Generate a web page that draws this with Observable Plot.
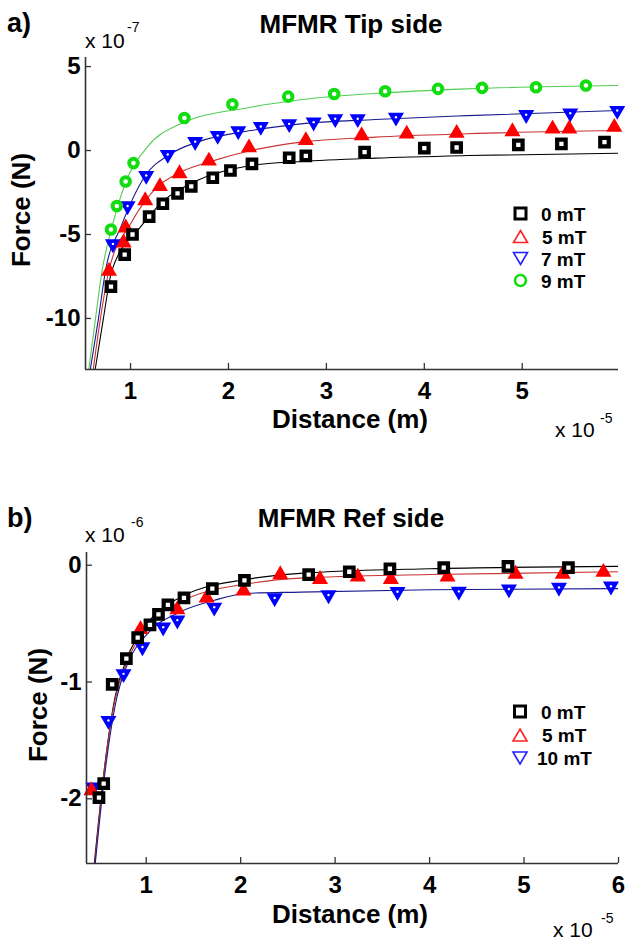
<!DOCTYPE html>
<html><head><meta charset="utf-8">
<script src="https://cdn.jsdelivr.net/npm/d3@7"></script>
<script src="https://cdn.jsdelivr.net/npm/@observablehq/plot@0.6"></script>
<style>
body{margin:0;background:#fff;}
#root{position:relative;width:625px;height:939px;overflow:hidden;background:#fff;font-family:"Liberation Sans",Arial,sans-serif;}
#root svg{position:absolute;left:0;}
</style></head>
<body><div id="root"></div>
<script>
// ---------------- DATA ----------------
// Panel a) MFMR Tip side  (x in 1e-5 m, y in 1e-7 N)
const topSeries = ["0 mT", "5 mT", "7 mT", "9 mT"];
const topX_0 = [0.80,0.94,1.02,1.19,1.33,1.48,1.62,1.84,2.02,2.24,2.62,2.79,3.39,4.00,4.33,4.96,5.40,5.84];
const topY_0 = [-8.1,-6.2,-5.0,-3.93,-3.17,-2.55,-2.14,-1.62,-1.19,-0.79,-0.43,-0.32,-0.10,0.14,0.18,0.34,0.40,0.50];
const topX_5 = [0.78,0.93,0.95,1.15,1.30,1.50,1.80,2.21,2.79,3.36,3.82,4.33,4.90,5.31,5.48,5.94];
const topY_5 = [-7.18,-5.5,-4.6,-2.98,-2.14,-1.37,-0.62,0.17,0.6,0.89,0.99,1.03,1.13,1.29,1.29,1.39];
const topX_7 = [0.82,0.97,1.16,1.38,1.66,1.89,2.10,2.33,2.62,2.87,3.09,3.32,3.71,5.04,5.49,5.97];
const topY_7 = [-5.56,-3.3,-1.49,-0.24,0.53,0.89,1.17,1.43,1.59,1.69,1.89,1.89,1.98,2.13,2.22,2.38];
const topX_9 = [0.80,0.86,0.95,1.03,1.55,2.04,2.61,3.08,3.60,4.14,4.59,5.14,5.65];
const topY_9 = [-4.7,-3.3,-1.84,-0.75,1.94,2.76,3.21,3.37,3.53,3.67,3.73,3.77,3.87];
// fitted curves
const topFitX_0 = [0.64,0.72,0.81,1.10,1.34,1.68,2.23,2.74,3.5,4.44,5.98];
const topFitY_0 = [-13.0,-10.1,-7.14,-4.56,-2.98,-1.79,-0.89,-0.65,-0.45,-0.30,-0.16];
const topFitX_5 = [0.62,0.69,0.78,1.00,1.27,1.51,1.85,2.23,2.74,3.5,4.44,5.98];
const topFitY_5 = [-13.0,-10.1,-7.14,-4.37,-2.18,-1.29,-0.60,0.0,0.50,0.80,1.0,1.19];
const topFitX_7 = [0.59,0.67,0.745,0.90,1.14,1.41,1.68,2.23,2.74,3.5,4.44,5.98];
const topFitY_7 = [-13.0,-10.1,-7.14,-4.56,-1.59,-0.20,0.50,1.19,1.59,1.85,2.08,2.38];
const topFitX_9 = [0.574,0.64,0.71,0.81,0.95,1.17,1.51,2.23,2.74,3.5,4.44,5.98];
const topFitY_9 = [-13.0,-10.1,-7.14,-4.56,-1.9,0.2,1.59,2.58,3.02,3.40,3.67,3.87];
const topXTicks = [1,2,3,4,5];
const topYTicks = [-10,-5,0,5];
const topXDomain = [0.54, 5.983];
const topYDomain = [-13.04, 5.54];

// Panel b) MFMR Ref side  (x in 1e-5 m, y in 1e-6 N)
const botSeries = ["0 mT", "5 mT", "10 mT"];
const botX_0 = [0.50,0.55,0.64,0.79,0.91,1.04,1.13,1.23,1.40,1.70,2.04,2.72,3.15,3.58,4.15,4.83,5.47];
const botY_0 = [-1.99,-1.87,-1.02,-0.80,-0.62,-0.51,-0.42,-0.34,-0.28,-0.20,-0.13,-0.08,-0.056,-0.03,-0.02,-0.01,-0.02];
const botX_5 = [0.42,0.94,1.33,1.64,2.03,2.42,2.84,3.24,3.59,4.19,4.91,5.41,5.84];
const botY_5 = [-1.93,-0.55,-0.38,-0.28,-0.22,-0.08,-0.12,-0.10,-0.12,-0.10,-0.076,-0.076,-0.06];
const botX_10 = [0.44,0.60,0.76,0.96,1.18,1.33,1.72,2.36,2.93,3.66,4.31,4.84,5.37,5.92];
const botY_10 = [-1.9,-1.33,-0.93,-0.70,-0.53,-0.47,-0.36,-0.28,-0.255,-0.227,-0.224,-0.204,-0.19,-0.18];
const botFitX_0 = [0.45,0.55,0.67,0.80,1.01,1.40,2.07,2.63,4.0,6.0];
const botFitY_0 = [-2.56,-1.79,-1.13,-0.79,-0.50,-0.26,-0.12,-0.07,-0.03,-0.01];
const botFitX_5 = [0.455,0.55,0.67,0.80,1.01,1.40,2.07,2.63,4.0,6.0];
const botFitY_5 = [-2.56,-1.80,-1.15,-0.82,-0.53,-0.30,-0.16,-0.11,-0.08,-0.056];
const botFitX_10 = [0.46,0.56,0.69,0.80,1.01,1.36,1.72,2.07,2.63,4.0,6.0];
const botFitY_10 = [-2.56,-1.80,-1.13,-0.85,-0.59,-0.40,-0.30,-0.24,-0.23,-0.21,-0.20];
const botXTicks = [1,2,3,4,5,6];
const botYTicks = [-2,-1,0];
const botXDomain = [0.368, 6.0];
const botYDomain = [-2.554, 0.109];

// ---------------- STYLES ----------------
const FONT = "'Liberation Sans', Arial, Helvetica, sans-serif";
const downTriangle = {
  draw(ctx, size) {
    const s = Math.sqrt(size / (Math.sqrt(3) / 4));
    const h = s * Math.sqrt(3) / 2;
    ctx.moveTo(0, h * 2 / 3);
    ctx.lineTo(s / 2, -h / 3);
    ctx.lineTo(-s / 2, -h / 3);
    ctx.closePath();
  }
};
const markerStyle = {
  "0 mT":  {symbol: "square", fill: "white", stroke: "#000", strokeWidth: 4.2, r: 4.8, lineColor: "#000"},
  "5 mT":  {symbol: "triangle", fill: "#ff0000", stroke: "#ff0000", strokeWidth: 1.5, r: 5.0, lineColor: "#c83232"},
  "7 mT":  {symbol: downTriangle, fill: "#0000ff", stroke: "#0000ff", strokeWidth: 1.5, r: 5.0, dot: true, lineColor: "#1a1a8c"},
  "10 mT": {symbol: downTriangle, fill: "#0000ff", stroke: "#0000ff", strokeWidth: 1.5, r: 5.0, dot: true, lineColor: "#1a1a8c"},
  "9 mT":  {symbol: "circle", fill: "white", stroke: "#11dd11", strokeWidth: 4.0, r: 4.3, lineColor: "#55cc55"}
};
const legendStyle = {
  "0 mT":  {kind: "square", color: "#000"},
  "5 mT":  {kind: "up", color: "#ff2020"},
  "7 mT":  {kind: "down", color: "#2020ff"},
  "10 mT": {kind: "down", color: "#2020ff"},
  "9 mT":  {kind: "circle", color: "#11dd11"}
};

function toRows(xs, ys, s) { return xs.map((x, i) => ({x, y: ys[i], s})); }

function buildPanel({series, pts, fits, xTicks, yTicks, xDomain, yDomain, width, height, margins, drawOrder}) {
  const [mt, mr, mb, ml] = margins;
  const fw = width - ml - mr, fh = height - mt - mb;
  const marks = [];
  // fit curves
  series.forEach((s, i) => {
    marks.push(Plot.line(toRows(fits[i][0], fits[i][1], s), {
      x: "x", y: "y", stroke: markerStyle[s].lineColor, strokeWidth: 1.1, curve: "monotone-x", clip: true
    }));
  });
  // markers
  drawOrder.forEach(i => {
    const s = series[i], m = markerStyle[s];
    const rows = toRows(pts[i][0], pts[i][1], s);
    marks.push(Plot.dot(rows, {x: "x", y: "y", symbol: m.symbol, r: m.r, fill: m.fill, stroke: m.stroke, strokeWidth: m.strokeWidth}));
    if (m.dot) marks.push(Plot.dot(rows, {x: "x", y: "y", r: 1.2, fill: "white", stroke: "none"}));
  });
  // axes lines
  marks.push(Plot.ruleY([yDomain[0]], {stroke: "#333", strokeWidth: 1.6}));
  marks.push(Plot.ruleX([xDomain[0]], {stroke: "#333", strokeWidth: 1.6}));
  // inward tick marks
  marks.push(Plot.ruleX(xTicks, {x: d => d, insetTop: fh - 6, stroke: "#333", strokeWidth: 1.3}));
  marks.push(Plot.ruleY(yTicks, {y: d => d, insetRight: fw - 6, stroke: "#333", strokeWidth: 1.3}));
  // tick labels
  marks.push(Plot.axisX(xTicks, {tickSize: 0, tickPadding: 12, label: null, tickFormat: d => String(d), fontSize: 24, fontWeight: "bold", fill: "#000"}));
  marks.push(Plot.axisY(yTicks, {tickSize: 0, tickPadding: 5, label: null, tickFormat: d => String(d), fontSize: 24, fontWeight: "bold", fill: "#000"}));
  return Plot.plot({
    width, height,
    marginTop: mt, marginRight: mr, marginBottom: mb, marginLeft: ml,
    x: {domain: xDomain}, y: {domain: yDomain},
    style: {fontFamily: FONT, background: "transparent", overflow: "visible"},
    marks
  });
}

const root = document.getElementById("root");

const topPlot = buildPanel({
  series: topSeries,
  pts: [[topX_0, topY_0], [topX_5, topY_5], [topX_7, topY_7], [topX_9, topY_9]],
  fits: [[topFitX_0, topFitY_0], [topFitX_5, topFitY_5], [topFitX_7, topFitY_7], [topFitX_9, topFitY_9]],
  xTicks: topXTicks, yTicks: topYTicks, xDomain: topXDomain, yDomain: topYDomain,
  width: 625, height: 440, margins: [57, 7, 71, 85], drawOrder: [2, 3, 1, 0]
});
topPlot.style.top = "0px";
root.appendChild(topPlot);

const botPlot = buildPanel({
  series: botSeries,
  pts: [[botX_0, botY_0], [botX_5, botY_5], [botX_10, botY_10]],
  fits: [[botFitX_0, botFitY_0], [botFitX_5, botFitY_5], [botFitX_10, botFitY_10]],
  xTicks: botXTicks, yTicks: botYTicks, xDomain: botXDomain, yDomain: botYDomain,
  width: 625, height: 469, margins: [82, 7, 76, 86], drawOrder: [2, 1, 0]
});
botPlot.style.top = "470px";
root.appendChild(botPlot);

// ---------------- ANNOTATIONS (text + legends) ----------------
const ov = d3.select(root).append("svg")
  .attr("width", 625).attr("height", 939)
  .style("top", "0px").style("font-family", FONT);

function txt(str, x, y, {size = 26, weight = "bold", anchor = "start", rotate = false} = {}) {
  const t = ov.append("text").text(str).attr("font-size", size).attr("font-weight", weight)
    .attr("text-anchor", anchor).attr("fill", "#000");
  if (rotate) t.attr("transform", `translate(${x},${y}) rotate(-90)`);
  else t.attr("x", x).attr("y", y);
  return t;
}
function sci(exp, x, y, supX, supY) {
  txt("x 10", x, y, {size: 21, weight: "normal"});
  txt(exp, supX, supY, {size: 14, weight: "normal"});
}

// panel a
txt("a)", 7, 32, {size: 27});
txt("MFMR Tip side", 351, 33, {size: 26, anchor: "middle"});
sci("-7", 85, 47.5, 127, 32);
txt("Force (N)", 30, 210, {size: 26, anchor: "middle", rotate: true});
txt("Distance (m)", 350, 428, {size: 26, anchor: "middle"});
sci("-5", 555, 437, 600, 423);

// panel b
txt("b)", 7, 527, {size: 27});
txt("MFMR Ref side", 351, 527, {size: 26, anchor: "middle"});
sci("-6", 85, 541.5, 131, 527);
txt("Force (N)", 47, 705, {size: 26, anchor: "middle", rotate: true});
txt("Distance (m)", 350, 923, {size: 26, anchor: "middle"});
sci("-5", 553, 936.5, 601, 923);

function legend(series, rowsY, symX, textX) {
  series.forEach((s, i) => {
    const ls = legendStyle[s], cy = rowsY[i];
    const g = ov.append("g");
    if (ls.kind === "square") {
      g.append("rect").attr("x", symX - 5.5).attr("y", cy - 5.5).attr("width", 11).attr("height", 11)
        .attr("fill", "none").attr("stroke", ls.color).attr("stroke-width", 3);
    } else if (ls.kind === "circle") {
      g.append("circle").attr("cx", symX).attr("cy", cy).attr("r", 5.5)
        .attr("fill", "none").attr("stroke", ls.color).attr("stroke-width", 2.6);
    } else {
      const w = 14, h = 12;
      const pts = ls.kind === "up"
        ? [[symX, cy - h / 2], [symX + w / 2, cy + h / 2], [symX - w / 2, cy + h / 2]]
        : [[symX, cy + h / 2], [symX + w / 2, cy - h / 2], [symX - w / 2, cy - h / 2]];
      g.append("polygon").attr("points", pts.map(p => p.join(",")).join(" "))
        .attr("fill", "none").attr("stroke", ls.color).attr("stroke-width", 1.6);
    }
    txt(s, textX[i], cy + 7, {size: 19});
  });
}
legend(topSeries, [213.5, 236.5, 258.5, 280.5], 520.5, [541, 542, 541, 541]);
legend(botSeries, [711.5, 735, 758], 520, [541, 542, 537]);
</script>
</body></html>
